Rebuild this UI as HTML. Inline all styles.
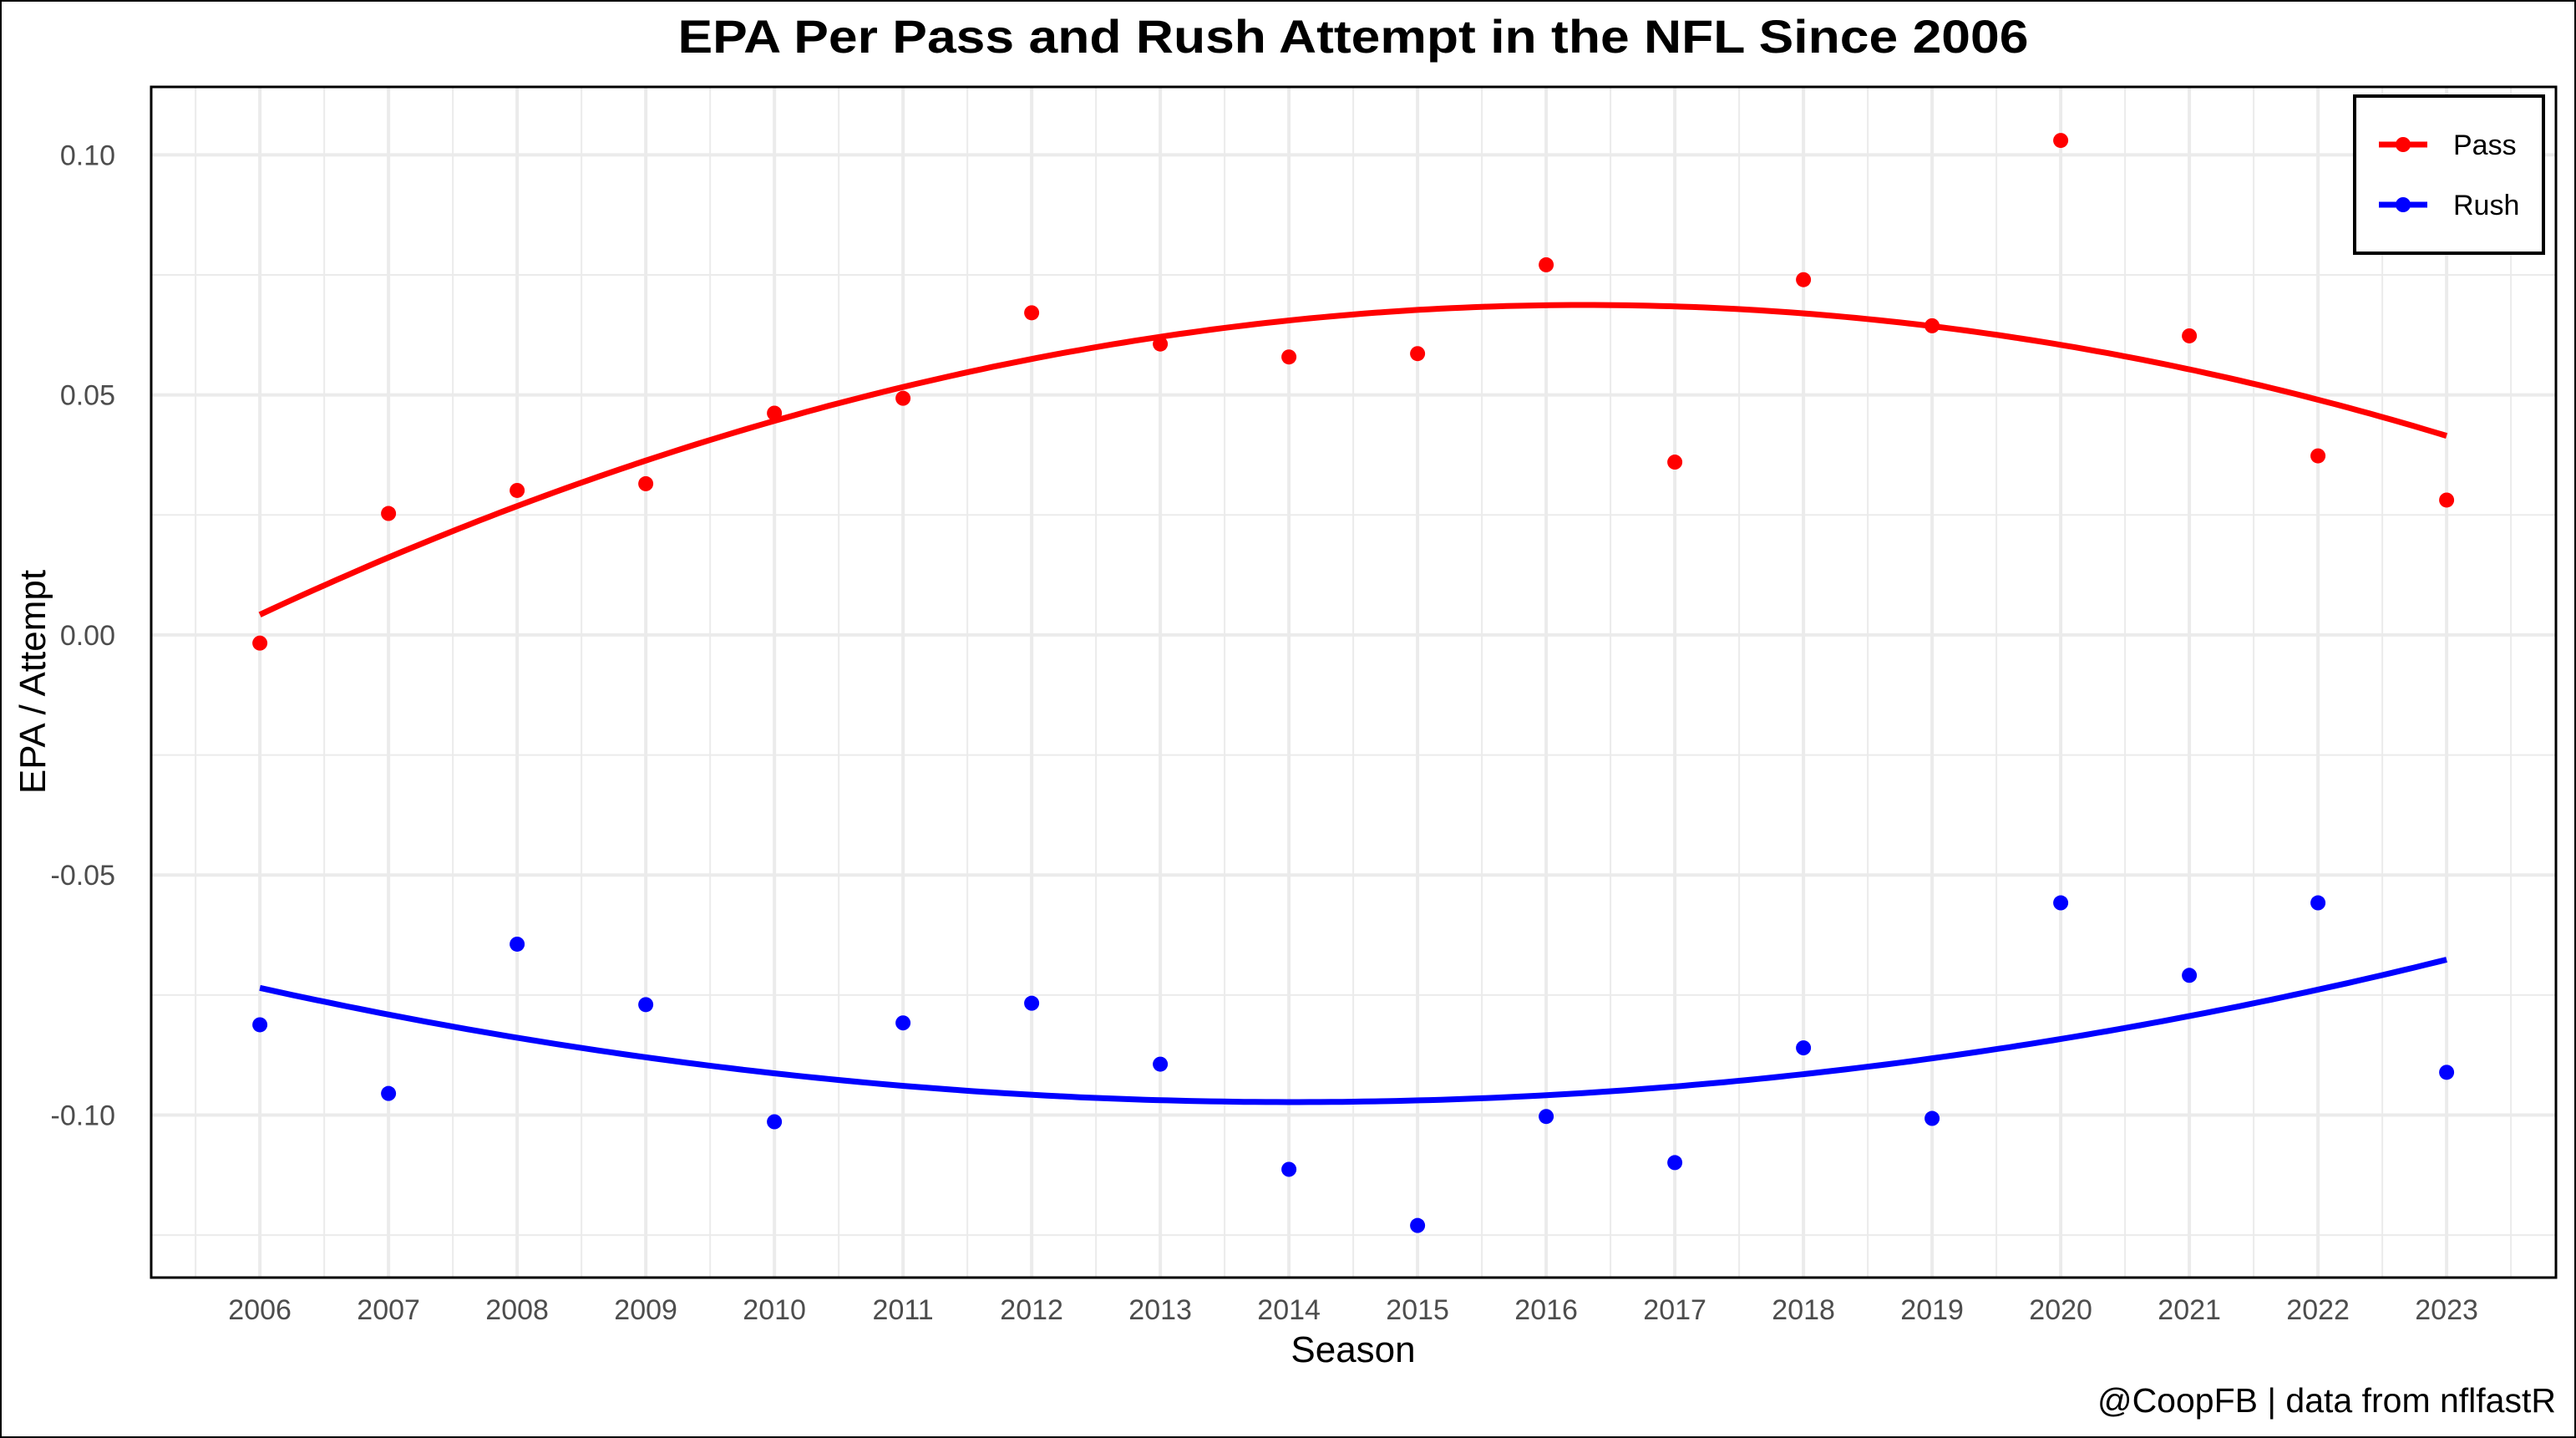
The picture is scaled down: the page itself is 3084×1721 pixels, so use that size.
<!DOCTYPE html>
<html><head><meta charset="utf-8"><style>
html,body{margin:0;padding:0;background:#fff}
svg{display:block;font-family:"Liberation Sans",Arial,sans-serif}
</style></head><body>
<svg id="chart" width="3084" height="1721" viewBox="0 0 3084 1721" xmlns="http://www.w3.org/2000/svg">
<rect x="1" y="1" width="3082" height="1719" fill="#fff" stroke="#000" stroke-width="2"/>
<text x="1620" y="63" text-anchor="middle" font-size="56" font-weight="bold" fill="#000" textLength="1617" lengthAdjust="spacingAndGlyphs">EPA Per Pass and Rush Attempt in the NFL Since 2006</text>
<g id="grid"></g>
<g id="marks"></g>
<rect x="181" y="104" width="2879" height="1425" fill="none" stroke="#000" stroke-width="3"/>
<g id="ticks" font-size="34" fill="#4d4d4d"></g>
<text x="1620" y="1630" text-anchor="middle" font-size="44" fill="#000">Season</text>
<text transform="translate(54,816) rotate(-90)" text-anchor="middle" font-size="44" fill="#000">EPA / Attempt</text>
<text x="3060" y="1690" text-anchor="end" font-size="41" fill="#000">@CoopFB | data from nflfastR</text>
<g>
<rect x="2819" y="115" width="226" height="188" fill="#fff" stroke="#000" stroke-width="4"/>
<g>
<line x1="2848" y1="173" x2="2906" y2="173" stroke="#ff0000" stroke-width="7"/>
<circle cx="2877" cy="173" r="9" fill="#ff0000"/>
<text x="2937" y="185" font-size="34" fill="#000">Pass</text></g>
<g>
<line x1="2848" y1="245" x2="2906" y2="245" stroke="#0000ff" stroke-width="7"/>
<circle cx="2877" cy="245" r="9" fill="#0000ff"/>
<text x="2937" y="257" font-size="34" fill="#000">Rush</text></g>
</g>
</svg>
<script>
const seasons=[2006,2007,2008,2009,2010,2011,2012,2013,2014,2015,2016,2017,2018,2019,2020,2021,2022,2023];
const passEpa=[-0.0017,0.0253,0.0301,0.0315,0.0462,0.0493,0.0671,0.0606,0.0579,0.0586,0.0771,0.036,0.074,0.0644,0.103,0.0623,0.0373,0.0281];
const rushEpa=[-0.0812,-0.0955,-0.0644,-0.077,-0.1014,-0.0808,-0.0767,-0.0894,-0.1113,-0.123,-0.1003,-0.1099,-0.086,-0.1007,-0.0558,-0.0709,-0.0558,-0.0911];
const yTicks=[0.10,0.05,0.00,-0.05,-0.10];
const yTickLabels=["0.10","0.05","0.00","-0.05","-0.10"];
const NS='http://www.w3.org/2000/svg';
const L=181,R=3060,T=104,B=1529;
const x0=2005.155,x1=2023.85,y0=-0.1335,y1=0.1145;
const sx=v=>L+(v-x0)/(x1-x0)*(R-L);
const sy=v=>B-(v-y0)/(y1-y0)*(B-T)-2;
function mk(tag,attrs,parent){const e=document.createElementNS(NS,tag);for(const k in attrs)e.setAttribute(k,attrs[k]);parent.appendChild(e);return e;}
const grid=document.getElementById('grid'),marks=document.getElementById('marks'),ticks=document.getElementById('ticks');
for(let i=0;i<=seasons.length;i++){const v=seasons[0]-0.5+i;if(v<x0||v>x1)continue;
 const g=mk('line',{x1:sx(v),x2:sx(v),y1:T,y2:B,stroke:'#ebebeb','stroke-width':2},grid);
 }
for(let i=0;i<yTicks.length+1;i++){const v=0.125-0.05*i;if(v<y0||v>y1)continue;
 const g=mk('line',{x1:L,x2:R,y1:sy(v),y2:sy(v),stroke:'#ebebeb','stroke-width':2},grid);
 }
seasons.forEach(s=>{const g=mk('line',{x1:sx(s),x2:sx(s),y1:T,y2:B,stroke:'#ebebeb','stroke-width':4},grid);
 
 const t=mk('text',{x:sx(s),y:1579,'text-anchor':'middle'},ticks);t.textContent=s;
 });
yTicks.forEach((v,i)=>{const g=mk('line',{x1:L,x2:R,y1:sy(v),y2:sy(v),stroke:'#ebebeb','stroke-width':4},grid);
 
 const t=mk('text',{x:138,y:sy(v)+12,'text-anchor':'end'},ticks);t.textContent=yTickLabels[i];
 });
function quadFit(xs,ys){const m=xs.reduce((a,b)=>a+b)/xs.length;const u=xs.map(x=>x-m);
 let S=[0,0,0,0,0],Ty=[0,0,0];u.forEach((x,i)=>{for(let k=0;k<5;k++)S[k]+=Math.pow(x,k);for(let k=0;k<3;k++)Ty[k]+=ys[i]*Math.pow(x,k);});
 const A=[[S[0],S[1],S[2],Ty[0]],[S[1],S[2],S[3],Ty[1]],[S[2],S[3],S[4],Ty[2]]];
 for(let c=0;c<3;c++){for(let r=c+1;r<3;r++){const f=A[r][c]/A[c][c];for(let k=c;k<4;k++)A[r][k]-=f*A[c][k];}}
 const b=[0,0,0];for(let r=2;r>=0;r--){let s=A[r][3];for(let k=r+1;k<3;k++)s-=A[r][k]*b[k];b[r]=s/A[r][r];}
 return x=>{const d=x-m;return b[0]+b[1]*d+b[2]*d*d;};}
function series(vals,color,name){const f=quadFit(seasons,vals);let d='';
 for(let i=0;i<=200;i++){const x=seasons[0]+(seasons[seasons.length-1]-seasons[0])*i/200;d+=(i?'L':'M')+sx(x).toFixed(1)+','+sy(f(x)).toFixed(1);}
 const p=mk('path',{d:d,fill:'none',stroke:color,'stroke-width':7},marks);
 
 vals.forEach((v,i)=>{const c=mk('circle',{cx:sx(seasons[i]),cy:sy(v),r:9,fill:color},marks);
  });}
series(passEpa,'#ff0000','pass');
series(rushEpa,'#0000ff','rush');
</script>
</body></html>
